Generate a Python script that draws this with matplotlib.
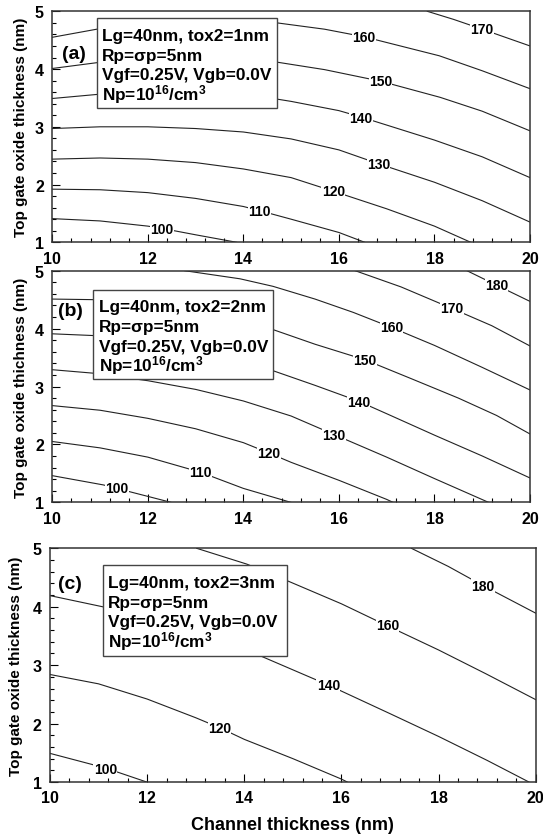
import matplotlib.pyplot as plt
from matplotlib.patches import Rectangle
from matplotlib.ticker import MultipleLocator

plt.rcParams['font.family'] = ['Liberation Sans', 'DejaVu Sans']
plt.rcParams['font.weight'] = 'bold'
plt.rcParams['mathtext.fontset'] = 'custom'
plt.rcParams['mathtext.rm'] = 'Liberation Sans:bold'
plt.rcParams['mathtext.it'] = 'Liberation Sans:bold'
plt.rcParams['mathtext.bf'] = 'Liberation Sans:bold'

# ---- panel (a): tox2 = 1nm ----
a_levels = [100, 110, 120, 130, 140, 150, 160, 170]
a_x = [
    [10, 11, 12, 12.3, 13, 13.86],
    [10, 11, 12, 13, 14, 14.33, 15, 16, 16.54],
    [10, 11, 12, 13, 14, 15, 15.9, 17, 18, 18.76],
    [10, 11, 12, 13, 14, 15, 16, 16.83, 18, 19, 20],
    [10, 10.93, 12, 13, 14, 14.7, 15, 16, 16.46, 17, 18, 19, 20],
    [10, 10.93, 12, 13, 14, 14.7, 15.7, 16.87, 18.12, 19, 20],
    [10, 10.93, 12, 13, 14, 14.7, 15.7, 16.52, 18.1, 19, 20],
    [17.85, 18.4, 19.0, 20],
]
a_y = [
    [1.41, 1.37, 1.28, 1.24, 1.13, 1.0],
    [1.92, 1.91, 1.86, 1.76, 1.62, 1.55, 1.40, 1.17, 1.0],
    [2.44, 2.46, 2.44, 2.38, 2.27, 2.12, 1.88, 1.58, 1.28, 1.0],
    [2.97, 3.0, 3.0, 2.97, 2.91, 2.79, 2.6, 2.36, 2.04, 1.72, 1.35],
    [3.49, 3.56, 3.58, 3.56, 3.51, 3.48, 3.44, 3.28, 3.17, 3.03, 2.77, 2.48, 2.12],
    [4.01, 4.11, 4.16, 4.17, 4.14, 4.12, 3.99, 3.79, 3.51, 3.27, 2.93],
    [4.55, 4.69, 4.78, 4.82, 4.82, 4.80, 4.69, 4.56, 4.23, 3.97, 3.66],
    [5.0, 4.86, 4.69, 4.40],
]
a_lab_x = [12.3, 14.33, 15.88, 16.83, 16.46, 16.87, 16.52, 19.0]
a_lab_y = [1.23, 1.55, 1.88, 2.36, 3.16, 3.79, 4.56, 4.69]

# ---- panel (b): tox2 = 2nm ----
b_levels = [100, 110, 120, 130, 140, 150, 160, 170, 180]
b_x = [
    [10, 11.07, 11.35, 12.01, 12.48],
    [10, 11, 12, 13.1, 14, 14.99],
    [10, 11, 12, 13, 14, 14.54, 15, 16, 17, 17.13],
    [10, 10.86, 12, 13, 14, 15, 15.9, 17, 18, 19.13],
    [10, 10.86, 12, 13, 14, 14.63, 15.5, 16.4, 17, 18, 19, 20],
    [10, 10.86, 12, 13, 14, 14.63, 15.5, 16.55, 17.5, 18.5, 19.3, 20],
    [12.77, 13.93, 14.62, 15.5, 16.3, 17.1, 18, 19, 20],
    [16.34, 17.3, 18.36, 19.2, 20],
    [18.68, 19.3, 20],
]
b_y = [
    [1.46, 1.30, 1.24, 1.10, 1.0],
    [2.05, 1.94, 1.78, 1.52, 1.24, 1.0],
    [2.67, 2.59, 2.45, 2.27, 2.03, 1.85, 1.69, 1.38, 1.05, 1.0],
    [3.29, 3.23, 3.10, 2.95, 2.75, 2.49, 2.17, 1.78, 1.41, 1.0],
    [3.91, 3.88, 3.78, 3.62, 3.42, 3.27, 3.02, 2.75, 2.53, 2.16, 1.80, 1.42],
    [4.51, 4.50, 4.44, 4.33, 4.13, 3.98, 3.73, 3.46, 3.14, 2.80, 2.50, 2.18],
    [5.0, 4.86, 4.73, 4.51, 4.28, 4.02, 3.71, 3.33, 2.94],
    [5.0, 4.72, 4.35, 4.05, 3.70],
    [5.0, 4.75, 4.47],
]
b_lab_x = [11.35, 13.1, 14.54, 15.9, 16.41, 16.55, 17.1, 18.36, 19.3]
b_lab_y = [1.24, 1.52, 1.85, 2.17, 2.74, 3.46, 4.02, 4.35, 4.75]

# ---- panel (c): tox2 = 3nm ----
c_levels = [100, 120, 140, 160, 180]
c_x = [
    [10, 11.14, 11.99],
    [10, 11, 12, 13, 13.49, 14, 15, 16, 16.12],
    [10, 11.08, 12, 13, 14.3, 15.28, 15.73, 17, 18, 19, 19.86],
    [13.02, 14.05, 14.87, 16.0, 16.93, 18.0, 18.98, 20],
    [17.44, 18.2, 18.92, 20],
]
c_y = [
    [1.49, 1.24, 1.0],
    [2.84, 2.68, 2.42, 2.10, 1.93, 1.73, 1.40, 1.05, 1.0],
    [4.19, 4.00, 3.78, 3.52, 3.17, 2.82, 2.66, 2.17, 1.78, 1.37, 1.0],
    [5.0, 4.73, 4.45, 4.05, 3.68, 3.26, 2.85, 2.41],
    [5.0, 4.69, 4.36, 3.89],
]
c_lab_x = [11.14, 13.49, 15.73, 16.95, 18.92]
c_lab_y = [1.23, 1.93, 2.66, 3.68, 4.36]

tags = ['(a)', '(b)', '(c)']
tox2 = ['1nm', '2nm', '3nm']
ylabels = ['Top gate oxide thickness (nm)', 'Top gate oxide thichness (nm)',
           'Top gate oxide thickness (nm)']
x_ticks = [10, 12, 14, 16, 18, 20]
y_ticks = [1, 2, 3, 4, 5]

# layout in pixels (left, top, right, bottom)
W, H = 543, 837
frames = [(52.3, 12.3, 530, 243.3), (52.3, 271.7, 530, 503.3), (50, 549.3, 535.7, 783)]
boxes = [(96.7, 19.3, 276.7, 109), (93.3, 290.7, 272.7, 380), (102.7, 566.3, 286.7, 657)]
tag_pos = [(61.7, 55), (58.3, 311), (58.3, 584.5)]
ylab_right = [28, 28, 23]

fig = plt.figure(figsize=(W / 100, H / 100), dpi=100)

panels = [(a_levels, a_x, a_y, a_lab_x, a_lab_y),
          (b_levels, b_x, b_y, b_lab_x, b_lab_y),
          (c_levels, c_x, c_y, c_lab_x, c_lab_y)]

for i, (levels, xs, ys, lx, ly) in enumerate(panels):
    l, t, r, b = frames[i]
    ax = fig.add_axes([l / W, 1 - b / H, (r - l) / W, (b - t) / H])
    fw, fh = r - l, b - t

    def to_ax(px, py):
        return (px - l) / fw, (b - py) / fh

    for x, y in zip(xs, ys):
        ax.plot(x, y, color='#222222', lw=0.8, zorder=2)
    for lv, x, y in zip(levels, lx, ly):
        ax.text(x, y, str(lv), fontsize=10, fontweight='bold', ha='center', va='center',
                bbox=dict(fc='white', ec='none', pad=0.2), zorder=3)

    # info box
    bl, bt, br, bb = boxes[i]
    x0, y0 = to_ax(bl, bb)
    x1, y1 = to_ax(br, bt)
    ax.add_patch(Rectangle((x0, y0), x1 - x0, y1 - y0, transform=ax.transAxes,
                           fc='white', ec='#444444', lw=1.0, zorder=4))
    lines = ['Lg=40nm, tox2=' + tox2[i], 'Rp=σp=5nm', 'Vgf=0.25V, Vgb=0.0V',
             'Np=10$^{16}$/cm$^{3}$']
    for k, s in enumerate(lines):
        tx, ty = to_ax(bl + 5.3, bt + 21.5 + 19.8 * k)
        ax.text(tx, ty, s, transform=ax.transAxes, fontsize=12.4, fontweight='bold',
                ha='left', va='baseline', zorder=5)

    gx, gy = to_ax(*tag_pos[i])
    ax.text(gx, gy, tags[i], transform=ax.transAxes, fontsize=14, fontweight='bold',
            ha='left', va='center', zorder=5)

    ax.set_xlim(10, 20)
    ax.set_ylim(1, 5)
    ax.set_xticks(x_ticks)
    ax.set_yticks(y_ticks)
    ax.xaxis.set_minor_locator(MultipleLocator(0.4))
    ax.yaxis.set_minor_locator(MultipleLocator(0.2))
    ax.tick_params(which='both', direction='in', top=False, right=False, labelsize=11.5)
    ax.tick_params(which='major', length=6, width=0.8, pad=6)
    ax.tick_params(which='minor', length=3, width=0.8)
    for lab in ax.get_xticklabels() + ax.get_yticklabels():
        lab.set_fontweight('bold')
    for sp in ax.spines.values():
        sp.set_color('#333333')
        sp.set_linewidth(1.1)

    ax.set_ylabel(ylabels[i], fontsize=11, fontweight='bold')
    ax.yaxis.set_label_coords((ylab_right[i] - l) / fw, 0.5)
    if i == 2:
        ax.set_xlabel('Channel thickness (nm)', fontsize=13, fontweight='bold')
        ax.xaxis.set_label_coords(0.5, -0.145)

fig.savefig('out.png', dpi=100)
